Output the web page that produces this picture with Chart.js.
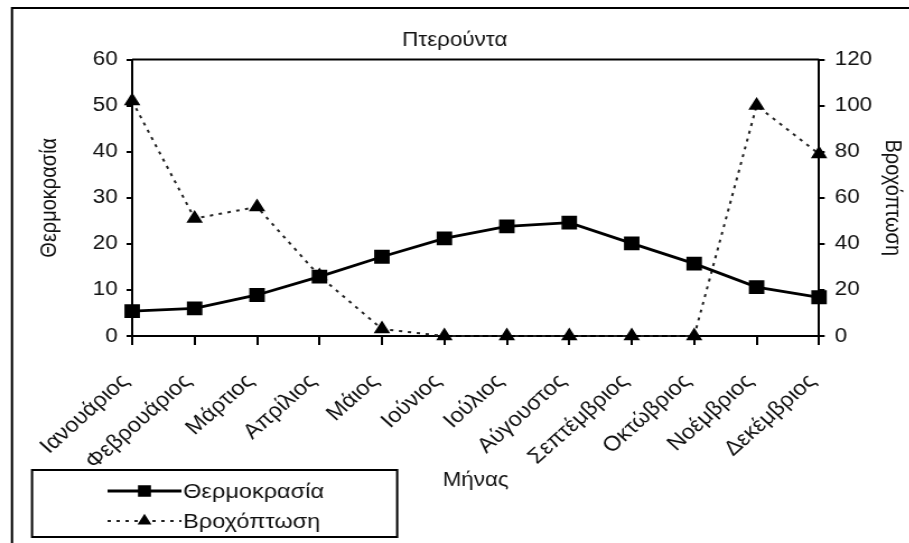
<!DOCTYPE html>
<html>
<head>
<meta charset="utf-8">
<script src="https://cdn.jsdelivr.net/npm/chart.js@4"></script>
<style>
  html, body { margin: 0; padding: 0; background: #fff; overflow: hidden; }
  /* the source picture is stretched sideways, so the canvas is too */
  #wrap { width: 812px; height: 543px; transform: scaleX(1.12); transform-origin: 0 0; }
</style>
</head>
<body>
<div id="wrap"><canvas id="chart" width="812" height="543"></canvas></div>
<script>
// --- Data ---
const months = ['Ιανουάριος', 'Φεβρουάριος', 'Μάρτιος', 'Απρίλιος', 'Μάιος', 'Ιούνιος',
  'Ιούλιος', 'Αύγουστος', 'Σεπτέμβριος', 'Οκτώβριος', 'Νοέμβριος', 'Δεκέμβριος'];
const temperature = [5.4, 6.0, 8.9, 12.9, 17.2, 21.2, 23.8, 24.6, 20.1, 15.7, 10.6, 8.4];
const rainfall = [102, 51, 56, 26, 3, 0, 0, 0, 0, 0, 100, 79];
const tempTicks = [0, 10, 20, 30, 40, 50, 60];
const rainTicks = [0, 20, 40, 60, 80, 100, 120];

const FONT = '"Liberation Sans", Arial, sans-serif';
const INK = '#111';

// frame round the whole chart + top edge of plot area
const framePlugin = {
  id: 'frame',
  beforeDraw(chart) {
    const ctx = chart.ctx;
    ctx.save();
    ctx.fillStyle = '#fff';
    ctx.fillRect(0, 0, chart.width, chart.height);
    ctx.strokeStyle = '#000';
    ctx.lineWidth = 2;
    ctx.beginPath();
    ctx.moveTo(10.7, chart.height);
    ctx.lineTo(10.7, 8);
    ctx.lineTo(chart.width, 8);
    ctx.stroke();
    const a = chart.chartArea;
    ctx.beginPath();
    ctx.moveTo(a.left, a.top);
    ctx.lineTo(a.right, a.top);
    ctx.stroke();
    ctx.restore();
  }
};

// boxed legend at bottom left
const legendBox = {
  id: 'legendBox',
  afterDraw(chart) {
    const ctx = chart.ctx;
    ctx.save();
    ctx.strokeStyle = '#000';
    ctx.lineWidth = 2;
    ctx.strokeRect(28.6, 470, 326, 67);
    chart.data.datasets.forEach((ds, i) => {
      const y = 491 + i * 30;
      ctx.beginPath();
      ctx.setLineDash(ds.borderDash || []);
      ctx.lineWidth = ds.borderWidth;
      ctx.strokeStyle = ds.borderColor;
      ctx.moveTo(96, y);
      ctx.lineTo(162, y);
      ctx.stroke();
      ctx.setLineDash([]);
      ctx.fillStyle = ds.pointBackgroundColor;
      ctx.strokeStyle = ds.pointBorderColor;
      Chart.helpers.drawPoint(ctx, {pointStyle: ds.pointStyle, radius: ds.pointRadius * 0.8, borderWidth: 1}, 129, y);
      ctx.fillStyle = INK;
      ctx.font = '21px ' + FONT;
      ctx.textBaseline = 'middle';
      ctx.textAlign = 'left';
      ctx.fillText(ds.label, 163.5, y + 1);
    });
    ctx.restore();
  }
};

const ctx = document.getElementById('chart').getContext('2d');
new Chart(ctx, {
  type: 'line',
  data: {
    labels: months,
    datasets: [
      {
        label: 'Θερμοκρασία',
        data: temperature,
        yAxisID: 'yTemp',
        borderColor: '#000',
        borderWidth: 2.8,
        pointStyle: 'rect',
        pointRadius: 7.8,
        pointBackgroundColor: '#000',
        pointBorderColor: '#000',
        tension: 0,
        clip: false
      },
      {
        label: 'Βροχόπτωση',
        data: rainfall,
        yAxisID: 'yRain',
        borderColor: '#222',
        borderWidth: 2,
        borderDash: [3, 5],
        pointStyle: 'triangle',
        pointRadius: 6.5,
        pointBackgroundColor: '#000',
        pointBorderColor: '#000',
        tension: 0,
        clip: false
      }
    ]
  },
  options: {
    responsive: false,
    animation: false,
    layout: { padding: { top: 10, left: 0, right: 0, bottom: 0 } },
    plugins: {
      legend: { display: false },
      tooltip: { enabled: false },
      title: {
        display: true,
        text: 'Πτερούντα',
        color: INK,
        font: { family: FONT, size: 20, weight: 'normal' },
        padding: { top: 18, bottom: 7.5 }
      }
    },
    scales: {
      x: {
        offset: false,
        grid: { drawOnChartArea: false, tickLength: 9, color: '#000', lineWidth: 2 },
        border: { color: '#000', width: 2 },
        ticks: { color: INK, font: { family: FONT, size: 21 }, minRotation: 45, maxRotation: 45, autoSkip: false, padding: 24, labelOffset: -6 },
        title: { display: true, text: 'Μήνας', color: INK, font: { family: FONT, size: 20 }, padding: { top: 0, bottom: 51 } },
        afterFit(scale) { scale.height = 207; }
      },
      yTemp: {
        position: 'left',
        min: 0, max: 60,
        afterBuildTicks(scale) { scale.ticks = tempTicks.map(v => ({ value: v })); },
        grid: { drawOnChartArea: false, tickLength: 5, color: '#000', lineWidth: 2 },
        border: { color: '#000', width: 2 },
        ticks: { color: INK, font: { family: FONT, size: 20 }, padding: 8 },
        title: { display: true, text: 'Θερμοκρασία', color: INK, font: { family: FONT, size: 20 }, padding: { top: 32.6, bottom: 0 } },
        afterFit(scale) { scale.width = 118; }
      },
      yRain: {
        position: 'right',
        min: 0, max: 120,
        afterBuildTicks(scale) { scale.ticks = rainTicks.map(v => ({ value: v })); },
        grid: { drawOnChartArea: false, tickLength: 5, color: '#000', lineWidth: 2 },
        border: { color: '#000', width: 2 },
        ticks: { color: INK, font: { family: FONT, size: 20 }, padding: 9 },
        title: { display: true, text: 'Βροχόπτωση', color: INK, font: { family: FONT, size: 20 }, padding: { top: 3.8, bottom: 0 } },
        afterFit(scale) { scale.width = 80.7; }
      }
    }
  },
  plugins: [framePlugin, legendBox]
});
</script>
</body>
</html>
